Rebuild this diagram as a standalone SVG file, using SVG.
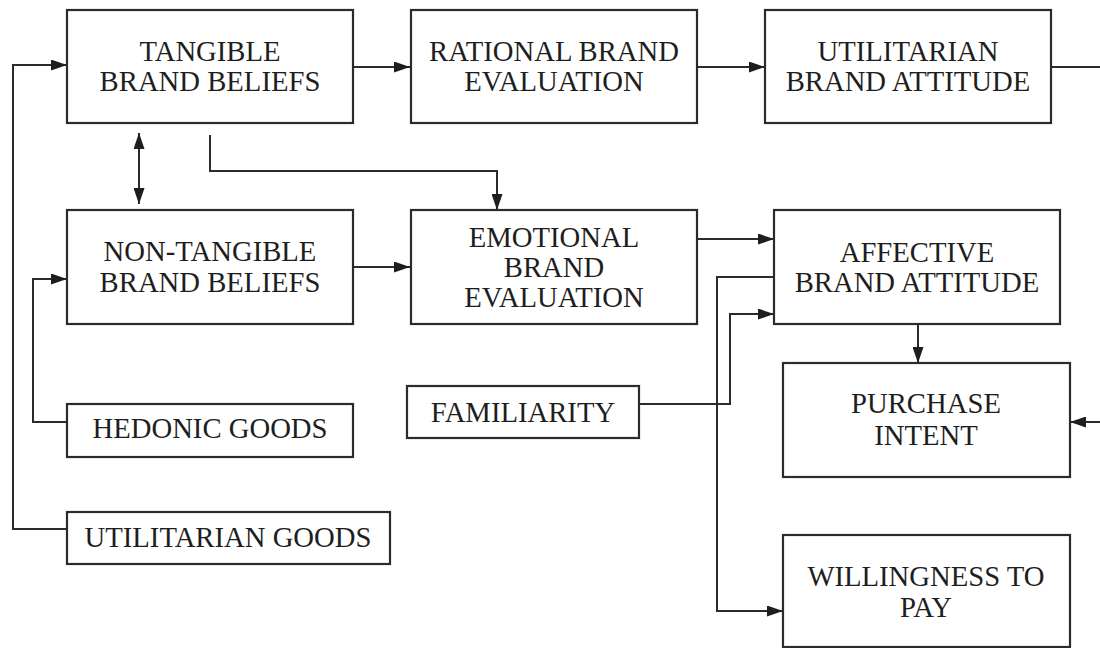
<svg xmlns="http://www.w3.org/2000/svg" width="1100" height="648" viewBox="0 0 1100 648">
<style>
.box{fill:#fff;stroke:#2b2b2b;stroke-width:2.2}
.t{font-family:"Liberation Serif","Times New Roman",serif;font-size:28.7px;fill:#1e1e1e;text-anchor:middle}
.c{fill:none;stroke:#2b2b2b;stroke-width:2}
.a{marker-end:url(#ah)}
</style>
<defs>
<marker id="ah" viewBox="0 0 16 11" refX="16" refY="5.5" markerWidth="16" markerHeight="11" markerUnits="userSpaceOnUse" orient="auto-start-reverse">
<path d="M0,0 L16,5.5 L0,11 z" fill="#1e1e1e"/>
</marker>
</defs>
<rect width="1100" height="648" fill="#fff"/>
<g id="connectors">
<path class="c a" d="M353,67 H410"/>
<path class="c a" d="M697,67 H765"/>
<path class="c" d="M1051,67 H1100"/>
<path class="c a" d="M1100,422 H1070"/>
<path class="c a" d="M139,133 V204" marker-start="url(#ah)"/>
<path class="c a" d="M210,135 V171 H497 V210"/>
<path class="c a" d="M353,267 H410"/>
<path class="c a" d="M697,239 H774"/>
<path class="c a" d="M774,277 H717 V611 H783"/>
<path class="c a" d="M639,404 H730 V314 H774"/>
<path class="c a" d="M918,324 V363"/>
<path class="c a" d="M67,422 H33 V279 H67"/>
<path class="c a" d="M67,529 H13 V65 H67"/>
</g>
<g id="tangible"><rect class="box" x="67" y="10" width="286" height="113"/><text class="t" x="210" y="61">TANGIBLE</text><text class="t" x="210" y="91">BRAND BELIEFS</text></g>
<g id="rational"><rect class="box" x="411" y="10" width="286" height="113"/><text class="t" x="554" y="61">RATIONAL BRAND</text><text class="t" x="554" y="91">EVALUATION</text></g>
<g id="utilitarian-attitude"><rect class="box" x="765" y="10" width="286" height="113"/><text class="t" x="908" y="61">UTILITARIAN</text><text class="t" x="908" y="91">BRAND ATTITUDE</text></g>
<g id="non-tangible"><rect class="box" x="67" y="210" width="286" height="114"/><text class="t" x="210" y="261">NON-TANGIBLE</text><text class="t" x="210" y="292">BRAND BELIEFS</text></g>
<g id="emotional"><rect class="box" x="411" y="210" width="286" height="114"/><text class="t" x="554" y="247">EMOTIONAL</text><text class="t" x="554" y="277">BRAND</text><text class="t" x="554" y="307">EVALUATION</text></g>
<g id="affective"><rect class="box" x="774" y="210" width="286" height="114"/><text class="t" x="917" y="262">AFFECTIVE</text><text class="t" x="917" y="292">BRAND ATTITUDE</text></g>
<g id="familiarity"><rect class="box" x="407" y="386" width="232" height="52"/><text class="t" x="523" y="422">FAMILIARITY</text></g>
<g id="purchase"><rect class="box" x="783" y="363" width="287" height="114"/><text class="t" x="926" y="413">PURCHASE</text><text class="t" x="926" y="445">INTENT</text></g>
<g id="hedonic"><rect class="box" x="67" y="404" width="286" height="53"/><text class="t" x="210" y="438">HEDONIC GOODS</text></g>
<g id="utilitarian-goods"><rect class="box" x="67" y="512" width="323" height="52"/><text class="t" x="228" y="547">UTILITARIAN GOODS</text></g>
<g id="willingness"><rect class="box" x="783" y="535" width="287" height="112"/><text class="t" x="926" y="586">WILLINGNESS TO</text><text class="t" x="926" y="617">PAY</text></g>
</svg>
